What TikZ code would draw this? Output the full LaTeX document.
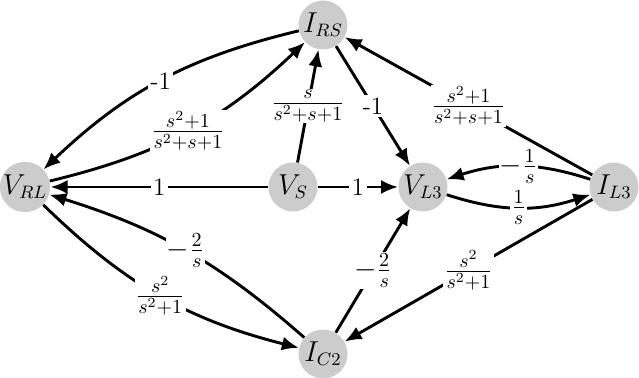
\documentclass[tikz,border=0pt]{standalone}
\usetikzlibrary{arrows.meta}
\definecolor{nodegray}{RGB}{204,204,204}
\begin{document}
\begin{tikzpicture}[x=0.5pt,y=-0.5pt,
  vnode/.style={circle,fill=nodegray,minimum size=24.5pt,inner sep=0pt,font=\fontsize{13.5}{15}\selectfont},
  edgeline/.style={line width=1.45pt,-{Latex[length=8.5pt,width=7pt]}},
  lbl/.style={fill=white,inner sep=1.2pt,font=\fontsize{12.5}{14}\selectfont},
  flbl/.style={fill=white,inner sep=0.5pt,font=\fontsize{14.4}{16}\selectfont}]
\useasboundingbox (0,0) rectangle (639,378);
\node[vnode] (IRS) at (323,25) {$I_{RS}$};
\node[vnode] (VRL) at (25,187) {$V_{RL}$};
\node[vnode] (VS) at (293,187) {$V_S$};
\node[vnode] (VL3) at (423,187) {$V_{L3}$};
\node[vnode] (IL3) at (614,187) {$I_{L3}$};
\node[vnode] (IC2) at (323,354) {$I_{C2}$};

\draw[edgeline] (IRS) to[bend right=15] node[lbl] {-1} (VRL);
\draw[edgeline] (VRL) to[bend right=15] node[flbl] {$\frac{s^2+1}{s^2+s+1}$} (IRS);
\draw[edgeline] (VS) -- node[flbl] {$\frac{s}{s^2+s+1}$} (IRS);
\draw[edgeline] (IRS) -- node[lbl] {-1} (VL3);
\draw[edgeline] (IL3) -- node[flbl] {$\frac{s^2+1}{s^2+s+1}$} (IRS);
\draw[edgeline] (VS) -- node[lbl] {1} (VRL);
\draw[edgeline] (VS) -- node[lbl] {1} (VL3);
\draw[edgeline] (IL3) to[bend right=18] node[flbl] {$-\frac{1}{s}$} (VL3);
\draw[edgeline] (VL3) to[bend right=18] node[flbl] {$\frac{1}{s}$} (IL3);
\draw[edgeline] (IC2) to[bend right=12] node[flbl] {$-\frac{2}{s}$} (VRL);
\draw[edgeline] (VRL) to[bend right=15] node[flbl] {$\frac{s^2}{s^2+1}$} (IC2);
\draw[edgeline] (IC2) -- node[flbl] {$-\frac{2}{s}$} (VL3);
\draw[edgeline] (IL3) -- node[flbl] {$\frac{s^2}{s^2+1}$} (IC2);
\end{tikzpicture}
\end{document}
